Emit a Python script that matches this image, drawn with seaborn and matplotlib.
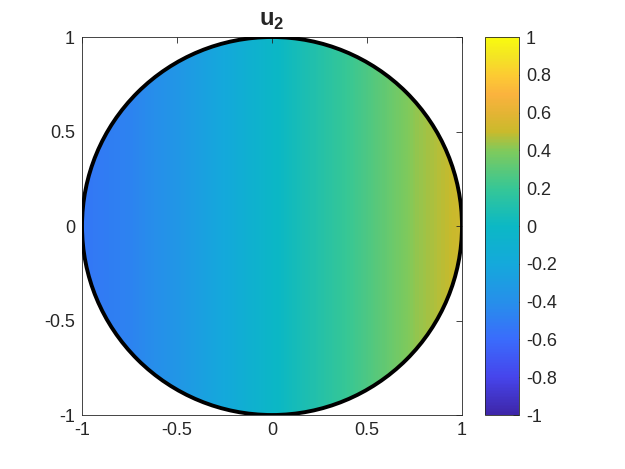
import numpy as np
import matplotlib
matplotlib.use('Agg')
import matplotlib.pyplot as plt
from matplotlib.patches import Circle
from matplotlib.colors import LinearSegmentedColormap
import seaborn as sns

# u_2 read along a horizontal line through the disk (field is nearly constant in y)
x_samples = [-1.0, -0.75, -0.5, -0.25, 0.0, 0.25, 0.5, 0.75, 1.0]
u_samples = [-0.54, -0.47, -0.35, -0.20, -0.02, 0.12, 0.26, 0.42, 0.52]

x_ticks = [-1, -0.5, 0, 0.5, 1]
x_ticklabels = ['-1', '-0.5', '0', '0.5', '1']
cbar_ticks = [-1, -0.8, -0.6, -0.4, -0.2, 0, 0.2, 0.4, 0.6, 0.8, 1]
cbar_ticklabels = ['-1', '-0.8', '-0.6', '-0.4', '-0.2', '0', '0.2', '0.4', '0.6', '0.8', '1']

# parula-like colours
parula_colors = ['#3E26A8', '#4645EC', '#3A6CFC', '#2690EA', '#14A9DB', '#0BB8C5',
                 '#36C796', '#7FCA5C', '#C9BA2C', '#E4B434', '#FBB33E', '#FCCB33',
                 '#F4E424', '#F9FB0E']
parula_pos = [0.0, 0.1, 0.2, 0.3, 0.4, 0.5, 0.6, 0.7, 0.75, 0.8, 0.85, 0.9, 0.95, 1.0]

sns.set_theme(style='white')
plt.rcParams['font.family'] = ['Liberation Sans', 'DejaVu Sans']
plt.rcParams['mathtext.fontset'] = 'custom'
plt.rcParams['mathtext.bf'] = 'Liberation Sans:bold'
plt.rcParams['mathtext.rm'] = 'Liberation Sans'

parula = LinearSegmentedColormap.from_list('parula', list(zip(parula_pos, parula_colors)))

fig = plt.figure(figsize=(6.25, 4.69), dpi=100)
ax = fig.add_axes([0.1312, 0.1151, 0.6080, 0.806])
cax = fig.add_axes([0.776, 0.1151, 0.0544, 0.806])

field = np.array([u_samples, u_samples])
step = x_samples[1] - x_samples[0]
im = ax.imshow(field, cmap=parula, vmin=-1, vmax=1, interpolation='bilinear',
               extent=[x_samples[0] - step / 2, x_samples[-1] + step / 2, -1, 1],
               origin='lower', aspect='auto')
clip = Circle((0, 0), 1, transform=ax.transData, facecolor='none', edgecolor='none')
ax.add_patch(clip)
im.set_clip_path(clip)
ax.add_patch(Circle((0, 0), 1, facecolor='none', edgecolor='black', linewidth=2.8, zorder=3))

ax.set_xlim(-1, 1)
ax.set_ylim(-1, 1)
ax.set_xticks(x_ticks)
ax.set_xticklabels(x_ticklabels)
ax.set_yticks(x_ticks)
ax.set_yticklabels(x_ticklabels)
ax.tick_params(direction='in', length=4, width=0.6, color='#262626', labelsize=13,
               labelcolor='#262626', top=True, right=True, pad=5)
for s in ax.spines.values():
    s.set_color('#262626')
    s.set_linewidth(0.6)
ax.set_title(r'$\mathbf{u}_\mathbf{2}$', fontsize=17, pad=8, color='#262626')

cb = fig.colorbar(im, cax=cax)
cb.set_ticks(cbar_ticks)
cb.set_ticklabels(cbar_ticklabels)
cb.outline.set_edgecolor('#262626')
cb.outline.set_linewidth(0.6)
cax.tick_params(direction='in', length=4, width=0.6, color='#262626', labelsize=13,
                labelcolor='#262626', pad=5)

fig.savefig('out.png', dpi=100, facecolor='white')
